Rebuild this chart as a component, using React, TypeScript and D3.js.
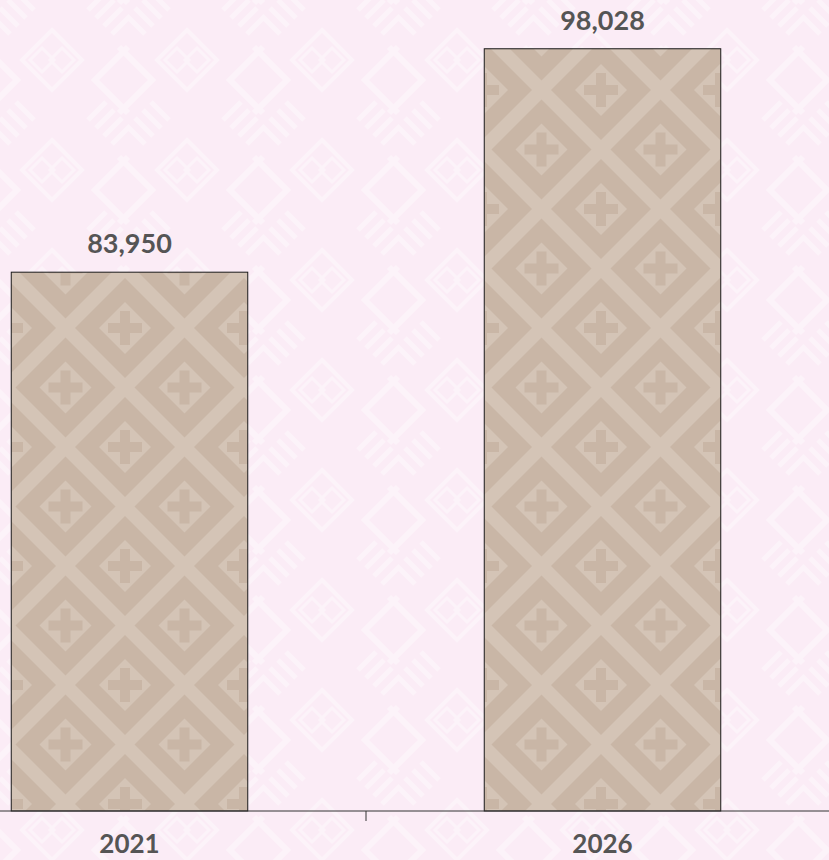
import React from 'react';
import * as d3 from 'd3';

const years = ['2021', '2026'];
const values = [83950, 98028];

const W = 829;
const H = 860;
const baseY = 811;

// background tile motif, drawn at each wrap offset
const BgMotif = ({ dx, dy }: { dx: number; dy: number }) => (
  <g transform={`translate(${52 + dx},${60 + dy})`} fill="none" stroke="#fff" strokeLinecap="butt">
    <path d="M0,-30L30,0L0,30L-30,0Z" strokeWidth={4} />
    <path d="M-10,-12L2,0L-10,12L-22,0Z" strokeWidth={3} />
    <path d="M10,-12L22,0L10,12L-2,0Z" strokeWidth={3} />
    <path d="M-68,-13L-35,20L-68,53" strokeWidth={6} />
    <path d="M76,-13L43,20L76,53" strokeWidth={6} />
    <path d="M-60,-44L-42,-26M-52,-52L-34,-34M-44,-60L-26,-42M-36,-68L-18,-50" strokeWidth={5} />
    <path d="M60,-26L78,-44M52,-34L70,-52M44,-42L62,-60M36,-50L54,-68" strokeWidth={5} />
  </g>
);

const BarMotif = ({ cx, cy }: { cx: number; cy: number }) => (
  <g transform={`translate(${cx},${cy})`}>
    <path d="M0,-50L50,0L0,50L-50,0Z" fill="#c9b6a6" />
    <path d="M0,-26L26,0L0,26L-26,0Z" fill="#d4c4b6" />
    <path d="M-5,-17H5V-5H17V5H5V17H-5V5H-17V-5H-5Z" fill="#c9b6a6" />
  </g>
);

export default function App() {
  const x = d3.scaleBand<string>().domain(years).range([-107, 839]).paddingInner(0.5).paddingOuter(0.25);
  const y = d3.scaleLinear().domain([50000, 101100]).range([baseY, 0]);
  const bw = x.bandwidth();
  const fmt = d3.format(',');
  const tickX = (x(years[0])! + bw + x(years[1])!) / 2;
  const T = 119;
  const bgOffsets = [-1, 0, 1];

  return (
    <svg width={W} height={H} style={{ position: 'absolute', left: 0, top: 0 }}>
      <defs>
        <pattern id="bg" patternUnits="userSpaceOnUse" x={0} y={0} width={135} height={110}>
          <rect width={135} height={110} fill="#fbecf6" />
          <g opacity={0.35}>
            {bgOffsets.flatMap((i) => bgOffsets.map((j) => <BgMotif key={`${i}${j}`} dx={i * 135} dy={j * 110} />))}
          </g>
        </pattern>
        <pattern id="bar" patternUnits="userSpaceOnUse" x={6} y={90} width={T} height={T}>
          <rect width={T} height={T} fill="#d4c4b6" />
          <BarMotif cx={T / 2} cy={T / 2} />
          <BarMotif cx={0} cy={0} />
          <BarMotif cx={T} cy={0} />
          <BarMotif cx={0} cy={T} />
          <BarMotif cx={T} cy={T} />
        </pattern>
      </defs>
      <rect width={W} height={H} fill="url(#bg)" />
      {years.map((yr, i) => (
        <g key={yr}>
          <rect
            x={x(yr)!}
            y={y(values[i])}
            width={bw}
            height={baseY - y(values[i])}
            fill="url(#bar)"
            stroke="#1a1a1a"
            strokeWidth={1}
          />
          <text
            x={x(yr)! + bw / 2}
            y={y(values[i]) - 19}
            textAnchor="middle"
            fontFamily="Lato, sans-serif"
            fontWeight={700}
            fontSize={27}
            fill="#555"
          >
            {fmt(values[i])}
          </text>
          <text
            x={x(yr)! + bw / 2}
            y={853}
            textAnchor="middle"
            fontFamily="Lato, sans-serif"
            fontWeight={700}
            fontSize={26}
            fill="#555"
          >
            {yr}
          </text>
        </g>
      ))}
      <line x1={0} x2={W} y1={baseY} y2={baseY} stroke="#333" strokeWidth={1} />
      <line x1={tickX} x2={tickX} y1={baseY} y2={baseY + 10} stroke="#333" strokeWidth={1} />
    </svg>
  );
}
